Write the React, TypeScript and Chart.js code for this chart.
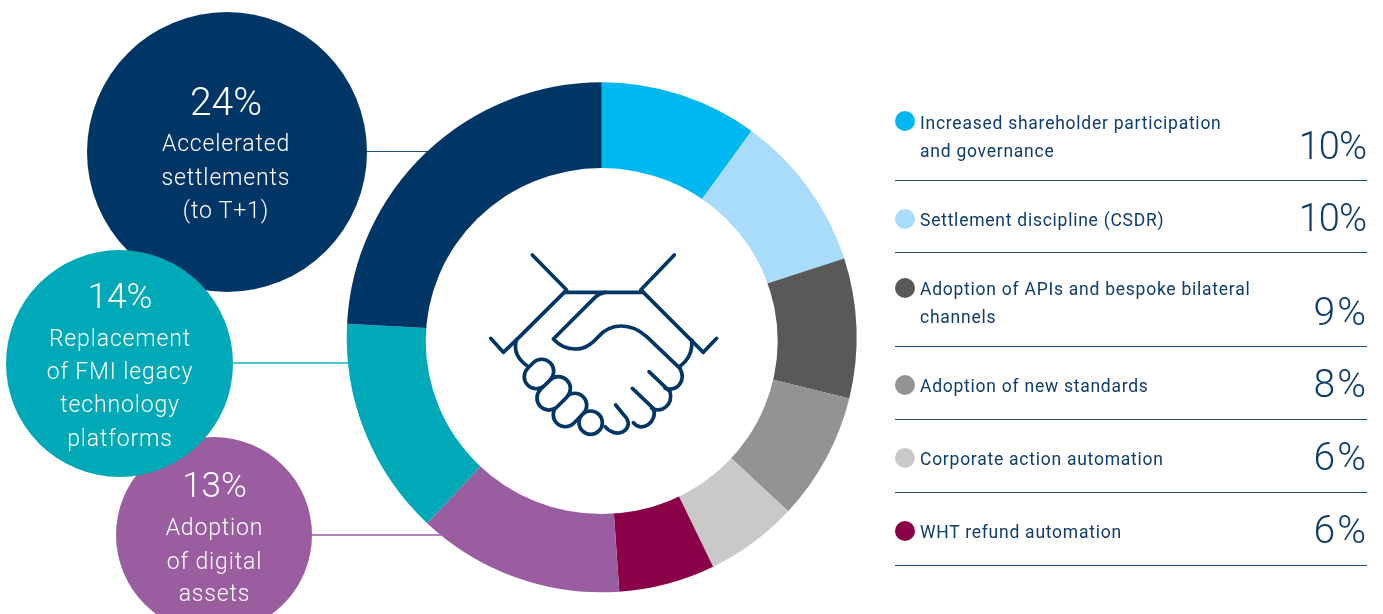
import React, { useEffect, useRef } from "react";
import { Chart, registerables } from "chart.js";

Chart.register(...registerables);

const categories = [
  "Increased shareholder participation and governance",
  "Settlement discipline (CSDR)",
  "Adoption of APIs and bespoke bilateral channels",
  "Adoption of new standards",
  "Corporate action automation",
  "WHT refund automation",
  "Adoption of digital assets",
  "Replacement of FMI legacy technology platforms",
  "Accelerated settlements (to T+1)",
];
// Slice sizes as measured from the ring's boundaries
const values = [10, 10, 8.85, 8.1, 5.85, 6.1, 13.1, 13.85, 24.15];
const colors = ["#00B8F1", "#A9DCFA", "#595959", "#939391", "#C9C9C9", "#8A0148", "#9A5DA0", "#00A9B7", "#003665"];

const legendLabels = [
  ["Increased shareholder participation", "and governance"],
  ["Settlement discipline (CSDR)"],
  ["Adoption of APIs and bespoke bilateral", "channels"],
  ["Adoption of new standards"],
  ["Corporate action automation"],
  ["WHT refund automation"],
];
const legendPercents = ["10%", "10%", "9%", "8%", "6%", "6%"];

const bubbleLabels = [
  ["Adoption", "of digital", "assets"],
  ["Accelerated", "settlements", "(to T+1)"],
  ["Replacement", "of FMI legacy", "technology", "platforms"],
];
const bubblePercents = ["13%", "24%", "14%"];

const TEXT = "#0E3D6B";
const FONT = "Roboto, sans-serif";

const legendLayout = [
  { dotY: 121, ys: [123, 151], pctY: 146, ruleY: 180, size: 38, sp: -1 },
  { dotY: 219, ys: [220], pctY: 218, ruleY: 252, size: 38, sp: -1 },
  { dotY: 288, ys: [289, 317], pctY: 312, ruleY: 346, size: 39, sp: 2 },
  { dotY: 385, ys: [386], pctY: 384, ruleY: 419, size: 39, sp: 2 },
  { dotY: 458, ys: [459], pctY: 457, ruleY: 492, size: 39, sp: 2 },
  { dotY: 531, ys: [532], pctY: 530, ruleY: 565, size: 39, sp: 2 },
];

const bubbleLayout = [
  { cx: 214, tx: 214.5, cy: 535, r: 98, color: colors[6], line: "#B084B8", lineY: 534, lineH: 2, lineEnd: 441, pctY: 486, size: 35, ys: [528, 562, 594] },
  { cx: 227, tx: 226, cy: 152, r: 140, color: colors[8], line: "#1E4D78", lineY: 151, lineH: 1, lineEnd: 428, pctY: 102, size: 39, ys: [144, 178, 211] },
  { cx: 119.5, tx: 120, cy: 363, r: 113.5, color: colors[7], line: "#4FC3CE", lineY: 362, lineH: 2, lineEnd: 348, pctY: 297, size: 35, ys: [339, 372, 405, 439] },
];

function Txt(p: { x: number; y: number; size: number; color: string; align: "left" | "center" | "right"; spacing: number; weight?: number; children: string }) {
  const box: React.CSSProperties = {
    position: "absolute",
    top: p.y - 30,
    height: 60,
    lineHeight: "60px",
    fontFamily: FONT,
    fontWeight: p.weight ?? 300,
    fontSize: p.size,
    letterSpacing: p.spacing,
    color: p.color,
    whiteSpace: "nowrap",
    textAlign: p.align,
  };
  if (p.align === "left") box.left = p.x;
  if (p.align === "center") { box.left = p.x - 150; box.width = 300; }
  if (p.align === "right") { box.left = p.x - 200; box.width = 200; }
  return <div style={box}>{p.children}</div>;
}

function Handshake() {
  const capsule = (cx: number, cy: number, w: number, h: number) => (
    <rect x={cx - w / 2} y={cy - h / 2} width={w} height={h} rx={h / 2} fill="#fff" transform={`rotate(-45 ${cx} ${cy})`} />
  );
  return (
    <svg viewBox="0 0 780 630" width={260} height={210} style={{ position: "absolute", left: 470, top: 240 }} fill="none" stroke="#003665" strokeWidth={11} strokeLinecap="round" strokeLinejoin="round">
      <path d="M187 45 L290 150" />
      <path d="M613 45 L512 150" />
      <path d="M285 157 L520 157" />
      <path d="M285 155 L147 292 L100 337 L62 295" />
      <path d="M515 152 L700 337 L740 295" />
      <path d="M405 157 Q388 160 375 172 L250 297 Q285 335 335 325 Q360 318 385 290 C420 250 480 245 530 290 L630 385" />
      <path d="M665 300 Q670 350 628 380" />
      <path d="M140 298 Q125 345 172 378" />
      <path d="M630 385 C650 425 620 455 585 445" />
      <path d="M537 395 L600 455 C610 495 575 520 545 505" />
      <path d="M487 445 L550 505 C565 545 515 580 490 548" />
      <path d="M437 495 L470 535 C490 570 440 600 405 560" />
      {capsule(300, 510, 112, 72)}
      {capsule(251, 460, 112, 72)}
      {capsule(207, 402, 95, 72)}
      <circle cx={362} cy={548} r={35} fill="#fff" />
    </svg>
  );
}

// The reference's hole sits slightly lower than the ring's centre, and is a touch flatter.
const holePlugin = {
  id: "hole",
  afterDatasetsDraw(chart: any) {
    const arc = chart.getDatasetMeta(0).data[0];
    const ctx = chart.ctx;
    ctx.save();
    ctx.fillStyle = "#fff";
    ctx.beginPath();
    ctx.ellipse(arc.x, arc.y + 3.8, 176, 173, 0, 0, Math.PI * 2);
    ctx.fill();
    ctx.restore();
  },
};

export default function App() {
  const ref = useRef<HTMLCanvasElement>(null);
  useEffect(() => {
    if (!ref.current) return;
    const chart = new Chart(ref.current, {
      type: "doughnut",
      data: {
        labels: categories,
        datasets: [{ data: values, backgroundColor: colors, borderWidth: 0, hoverOffset: 0 }],
      },
      plugins: [holePlugin],
      options: {
        responsive: false,
        animation: false,
        cutout: "60%",
        rotation: 0,
        layout: { padding: { left: 346.7, right: 526.3, top: 82.3, bottom: 21.7 } },
        plugins: { legend: { display: false }, tooltip: { enabled: false }, title: { display: false } },
      },
    });
    return () => chart.destroy();
  }, []);

  return (
    <div style={{ position: "absolute", left: 0, top: 0, width: 1383, height: 614, overflow: "hidden", background: "#fff" }}>
      {bubbleLayout.map((b, i) => (
        <div key={i} style={{ position: "absolute", left: b.cx + b.r - 2, top: b.lineY, width: b.lineEnd - b.cx - b.r + 2, height: b.lineH, background: b.line }} />
      ))}
      <canvas ref={ref} width={1383} height={614} style={{ position: "absolute", left: 0, top: 0, width: 1383, height: 614 }} />
      <Handshake />
      {bubbleLayout.map((b, i) => (
        <div key={i} style={{ position: "absolute", left: b.cx - b.r, top: b.cy - b.r, width: b.r * 2, height: b.r * 2, borderRadius: "50%", background: b.color }} />
      ))}
      {bubbleLayout.map((b, i) => (
        <React.Fragment key={i}>
          <Txt x={b.tx} y={b.pctY} size={b.size} color="#fff" align="center" spacing={0}>{bubblePercents[i]}</Txt>
          {bubbleLabels[i].map((l, j) => (
            <Txt key={l} x={b.tx} y={b.ys[j]} size={23} color="#fff" align="center" spacing={0.85}>{l}</Txt>
          ))}
        </React.Fragment>
      ))}
      {legendLayout.map((r, i) => (
        <React.Fragment key={i}>
          <div style={{ position: "absolute", left: 895, top: r.dotY - 10, width: 20, height: 20, borderRadius: "50%", background: colors[i] }} />
          {legendLabels[i].map((l, j) => (
            <Txt key={l} x={920} y={r.ys[j]} size={17.5} color={TEXT} align="left" spacing={0.75} weight={400}>{l}</Txt>
          ))}
          <Txt x={1366 + Math.max(r.sp, 0)} y={r.pctY} size={r.size} color={TEXT} align="right" spacing={r.sp}>{legendPercents[i]}</Txt>
          <div style={{ position: "absolute", left: 895, top: r.ruleY, width: 472, height: 1, background: "#1F4E7C" }} />
        </React.Fragment>
      ))}
    </div>
  );
}
